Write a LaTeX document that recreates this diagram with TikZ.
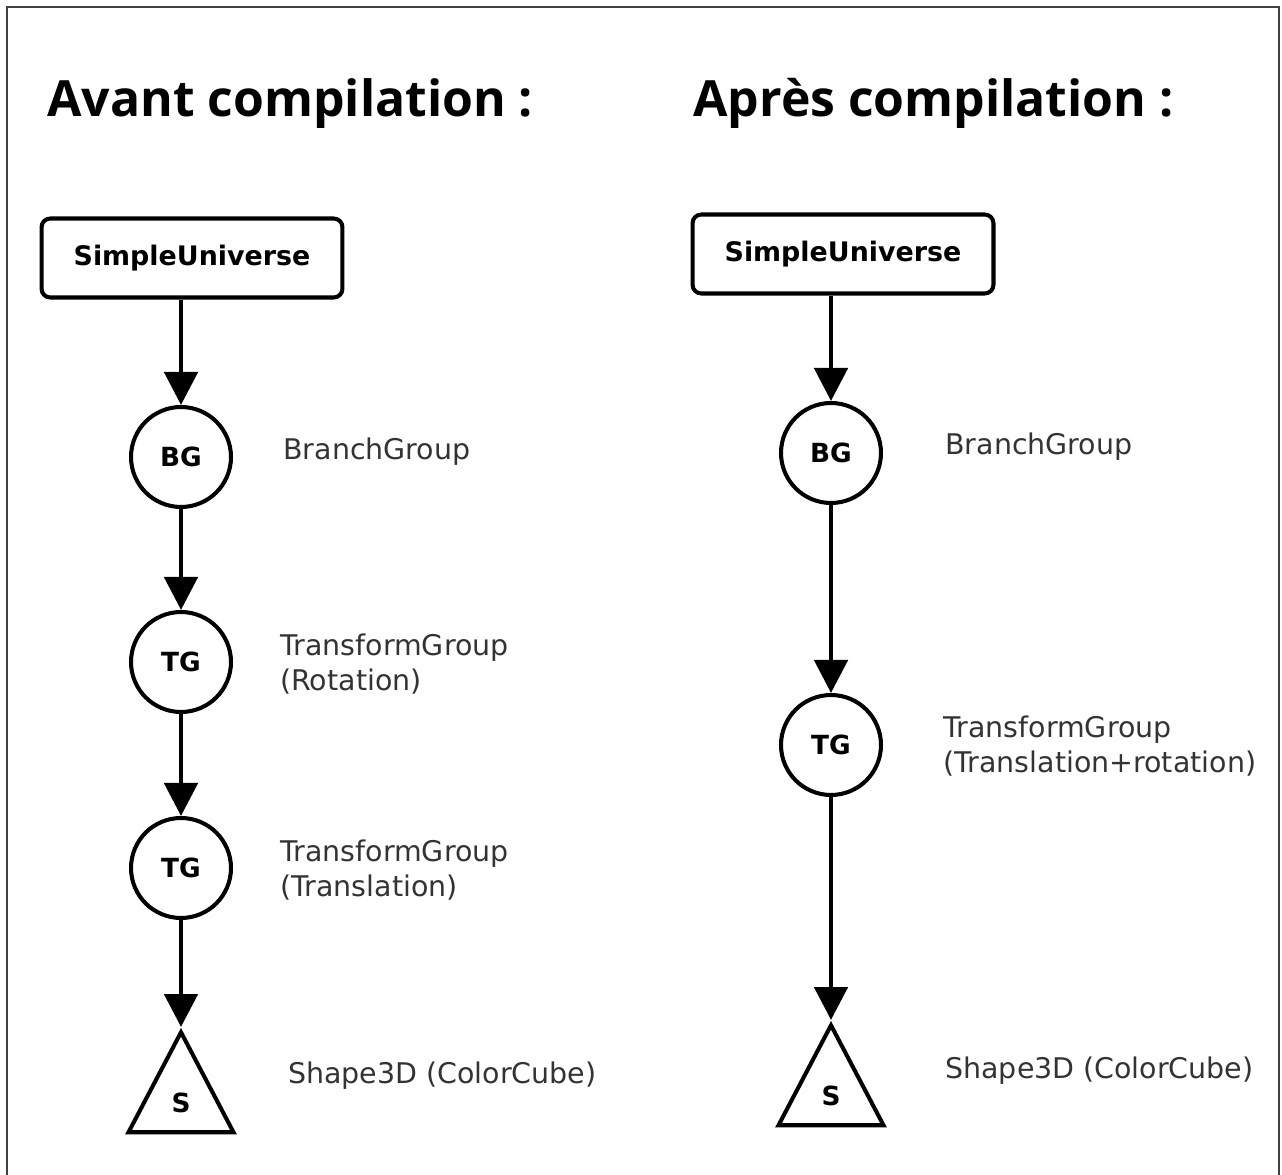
\documentclass[tikz,border=0pt]{standalone}
\usepackage{fontspec}
\setmainfont{Open Sans}
\newfontfamily\labelfont{DejaVu Sans}
\usetikzlibrary{arrows.meta,shapes.geometric}
\begin{document}
\begin{tikzpicture}[x=0.02cm,y=-0.02cm]
            \tikzstyle{every node}+=[inner sep=0pt]
            \tikzstyle{root}=[draw, line width=2.3pt, rounded corners=5pt, minimum width=6.02cm, minimum height=1.58cm, font=\labelfont\bfseries\fontsize{15.3}{18}\selectfont]
            \tikzstyle{grp}=[draw, circle, line width=2.3pt, minimum size=2cm, font=\labelfont\bfseries\fontsize{15}{18}\selectfont]
            \tikzstyle{leaf}=[draw, isosceles triangle, isosceles triangle stretches, shape border rotate=90, line width=2.3pt, minimum width=2.1cm, minimum height=2cm, anchor=apex, font=\labelfont\bfseries\fontsize{15}{18}\selectfont]
            \tikzstyle{info}=[anchor=west, align=left, text=black!80, font=\labelfont\fontsize{16.2}{19.8}\selectfont]
            \tikzstyle{title}=[anchor=base west, font=\bfseries\fontsize{28.4}{34}\selectfont]
            \tikzstyle{link}=[line width=2.8pt, -{Triangle[width=0.66cm,length=0.66cm]}]
            \useasboundingbox (0,0) rectangle (1282,1175);
            \draw [black!75, line width=1.5pt] (7,1175) -- (7,7) -- (1279,7) -- (1279,1175);
            % avant
            \node (t1) [title] at (47,117) {Avant compilation :};
            \node (su1) [root] at (192,258) {SimpleUniverse};
            \node (bg1) [grp] at (181,457) {BG};
            \node (tg1) [grp] at (181,662) {TG};
            \node (tg2) [grp] at (181,868) {TG};
            \node (s1) [leaf] at (181,1027) {S};
            \node (lbg1) [info] at (283,452) {BranchGroup};
            \node (ltg1) [info] at (280,664) {TransformGroup\\(Rotation)};
            \node (ltg2) [info] at (280,870) {TransformGroup\\(Translation)};
            \node (ls1) [info] at (288,1076) {Shape3D (ColorCube)};
            \draw [link] (bg1 |- su1.south) -- (bg1);
            \draw [link] (bg1) -- (tg1);
            \draw [link] (tg1) -- (tg2);
            \draw [link] (tg2) -- (s1.apex);
            % apres
            \node (t2) [title] at (693,117) {Après compilation :};
            \node (su2) [root] at (843,254) {SimpleUniverse};
            \node (bg2) [grp] at (831,453) {BG};
            \node (tg3) [grp] at (831,745) {TG};
            \node (s2) [leaf] at (831,1020) {S};
            \node (lbg2) [info] at (945,447) {BranchGroup};
            \node (ltg3) [info] at (943,746) {TransformGroup\\(Translation+rotation)};
            \node (ls2) [info] at (945,1071) {Shape3D (ColorCube)};
            \draw [link] (bg2 |- su2.south) -- (bg2);
            \draw [link] (bg2) -- (tg3);
            \draw [link] (tg3) -- (s2.apex);
        \end{tikzpicture}
\end{document}
